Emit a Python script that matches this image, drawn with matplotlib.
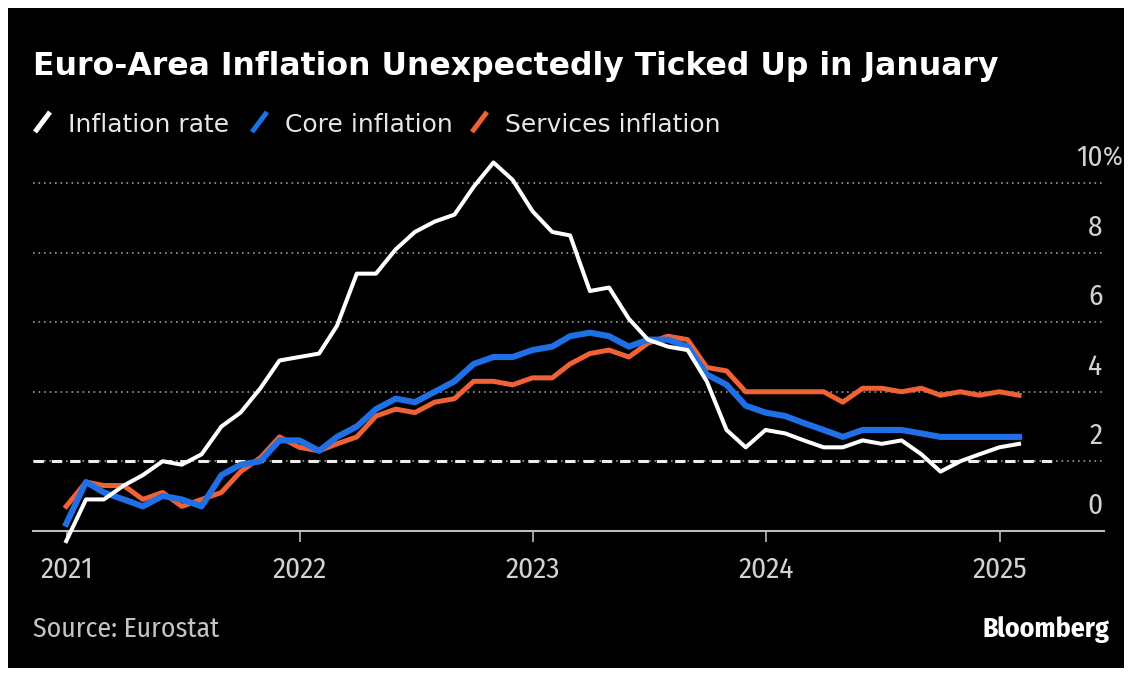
import pandas as pd
import matplotlib.pyplot as plt
from matplotlib import font_manager
from matplotlib.lines import Line2D
from matplotlib.patches import Rectangle

# monthly data, Dec 2020 .. Jan 2025 (year-over-year %)
months = pd.date_range('2020-12-31', '2025-01-31', freq='ME')
inflation = [-0.3,
             0.9, 0.9, 1.3, 1.6, 2.0, 1.9, 2.2, 3.0, 3.4, 4.1, 4.9, 5.0,
             5.1, 5.9, 7.4, 7.4, 8.1, 8.6, 8.9, 9.1, 9.9, 10.6, 10.1, 9.2,
             8.6, 8.5, 6.9, 7.0, 6.1, 5.5, 5.3, 5.2, 4.3, 2.9, 2.4, 2.9,
             2.8, 2.6, 2.4, 2.4, 2.6, 2.5, 2.6, 2.2, 1.7, 2.0, 2.2, 2.4,
             2.5]
core = [0.2,
        1.4, 1.1, 0.9, 0.7, 1.0, 0.9, 0.7, 1.6, 1.9, 2.0, 2.6, 2.6,
        2.3, 2.7, 3.0, 3.5, 3.8, 3.7, 4.0, 4.3, 4.8, 5.0, 5.0, 5.2,
        5.3, 5.6, 5.7, 5.6, 5.3, 5.5, 5.5, 5.3, 4.5, 4.2, 3.6, 3.4,
        3.3, 3.1, 2.9, 2.7, 2.9, 2.9, 2.9, 2.8, 2.7, 2.7, 2.7, 2.7,
        2.7]
services = [0.7,
            1.4, 1.3, 1.3, 0.9, 1.1, 0.7, 0.9, 1.1, 1.7, 2.1, 2.7, 2.4,
            2.3, 2.5, 2.7, 3.3, 3.5, 3.4, 3.7, 3.8, 4.3, 4.3, 4.2, 4.4,
            4.4, 4.8, 5.1, 5.2, 5.0, 5.4, 5.6, 5.5, 4.7, 4.6, 4.0, 4.0,
            4.0, 4.0, 4.0, 3.7, 4.1, 4.1, 4.0, 4.1, 3.9, 4.0, 3.9, 4.0,
            3.9]
target_dates = pd.to_datetime(['2020-11-09', '2025-03-23'])
target = [2, 2]
years = pd.to_datetime(['2021-01-01', '2022-01-01', '2023-01-01', '2024-01-01', '2025-01-01'])
year_labels = ['2021', '2022', '2023', '2024', '2025']
yvals = [0, 2, 4, 6, 8, 10]

names = {f.name for f in font_manager.fontManager.ttflist}
def pick(cands):
    return next((c for c in cands if c in names), 'DejaVu Sans')
narrow = pick(['Fira Sans Condensed', 'Roboto Condensed', 'IBM Plex Sans Condensed', 'Liberation Sans Narrow'])

W, H = 1132, 677
def fx(x): return x / W
def fy(y): return 1 - y / H

fig = plt.figure(figsize=(W / 100, H / 100), dpi=100, facecolor='white')
fig.patches.append(Rectangle((fx(8), fy(668)), fx(1116), (668 - 8) / H, transform=fig.transFigure,
                             facecolor='black', edgecolor='none', zorder=-5))

ax = fig.add_axes([fx(33), fy(530.7), fx(1104 - 33), (530.7 - 148.6) / H])
ax.set_facecolor('none')
ax.set_xlim(pd.Timestamp('2020-11-09'), pd.Timestamp('2025-06-13'))
ax.set_ylim(0, 11)
for s in ['top', 'left', 'right']:
    ax.spines[s].set_visible(False)
ax.spines['bottom'].set_color('#BDBDBD')
ax.spines['bottom'].set_linewidth(1.5)
ax.set_yticks([])
ax.set_xticks(years)
ax.set_xticklabels(year_labels, fontfamily=narrow)
ax.tick_params(axis='x', length=8, width=1.2, color='#BDBDBD', pad=10,
               labelsize=21, labelcolor='#D2D2D2')

# gridlines + 2% target
for v in yvals[1:]:
    ax.axhline(v, color='#9A9A9A', lw=1.2, ls=(0, (1, 2.3)), zorder=1)
ax.plot(target_dates, target, color='#EDEDED', lw=2.2, ls=(0, (3.4, 2.6)), zorder=2)

ax.plot(months, services, color='#EE6236', lw=3.6, zorder=3, clip_on=False)
ax.plot(months, core, color='#1F6FE6', lw=4.4, zorder=4, clip_on=False)
ax.plot(months, inflation, color='white', lw=2.9, zorder=5, clip_on=False)

# y labels sit above their gridlines, on the right
for v in yvals:
    ax.text(0.9985, v + 0.73, str(v), transform=ax.get_yaxis_transform(), ha='right', va='center',
            fontsize=21, color='#D2D2D2', fontfamily=narrow)
ax.text(0.9985, 10.73, '%', transform=ax.get_yaxis_transform(), ha='left', va='center',
        fontsize=19, color='#D2D2D2', fontfamily=narrow)

fig.text(fx(33), fy(75), 'Euro-Area Inflation Unexpectedly Ticked Up in January', fontsize=22.7,
         fontweight='bold', color='white', va='baseline', ha='left')

legend = [('Inflation rate', 'white', 35, 68), ('Core inflation', '#1F6FE6', 252, 285),
          ('Services inflation', '#EE6236', 472, 505)]
for label, c, x0, xt in legend:
    fig.add_artist(Line2D([fx(x0), fx(x0 + 15)], [fy(132), fy(112)], transform=fig.transFigure,
                          color=c, lw=3.6, solid_capstyle='butt'))
    fig.text(fx(xt), fy(132), label, fontsize=18, color='#E6E6E6', va='baseline', ha='left')

fig.text(fx(33), fy(637), 'Source: Eurostat', fontsize=20, color='#C4C4C4', fontfamily=narrow,
         va='baseline', ha='left')
fig.text(fx(1110), fy(637), 'Bloomberg', fontsize=20, color='white', fontfamily=narrow,
         fontweight='bold', va='baseline', ha='right')

fig.savefig('out.png', dpi=100, facecolor='white')
